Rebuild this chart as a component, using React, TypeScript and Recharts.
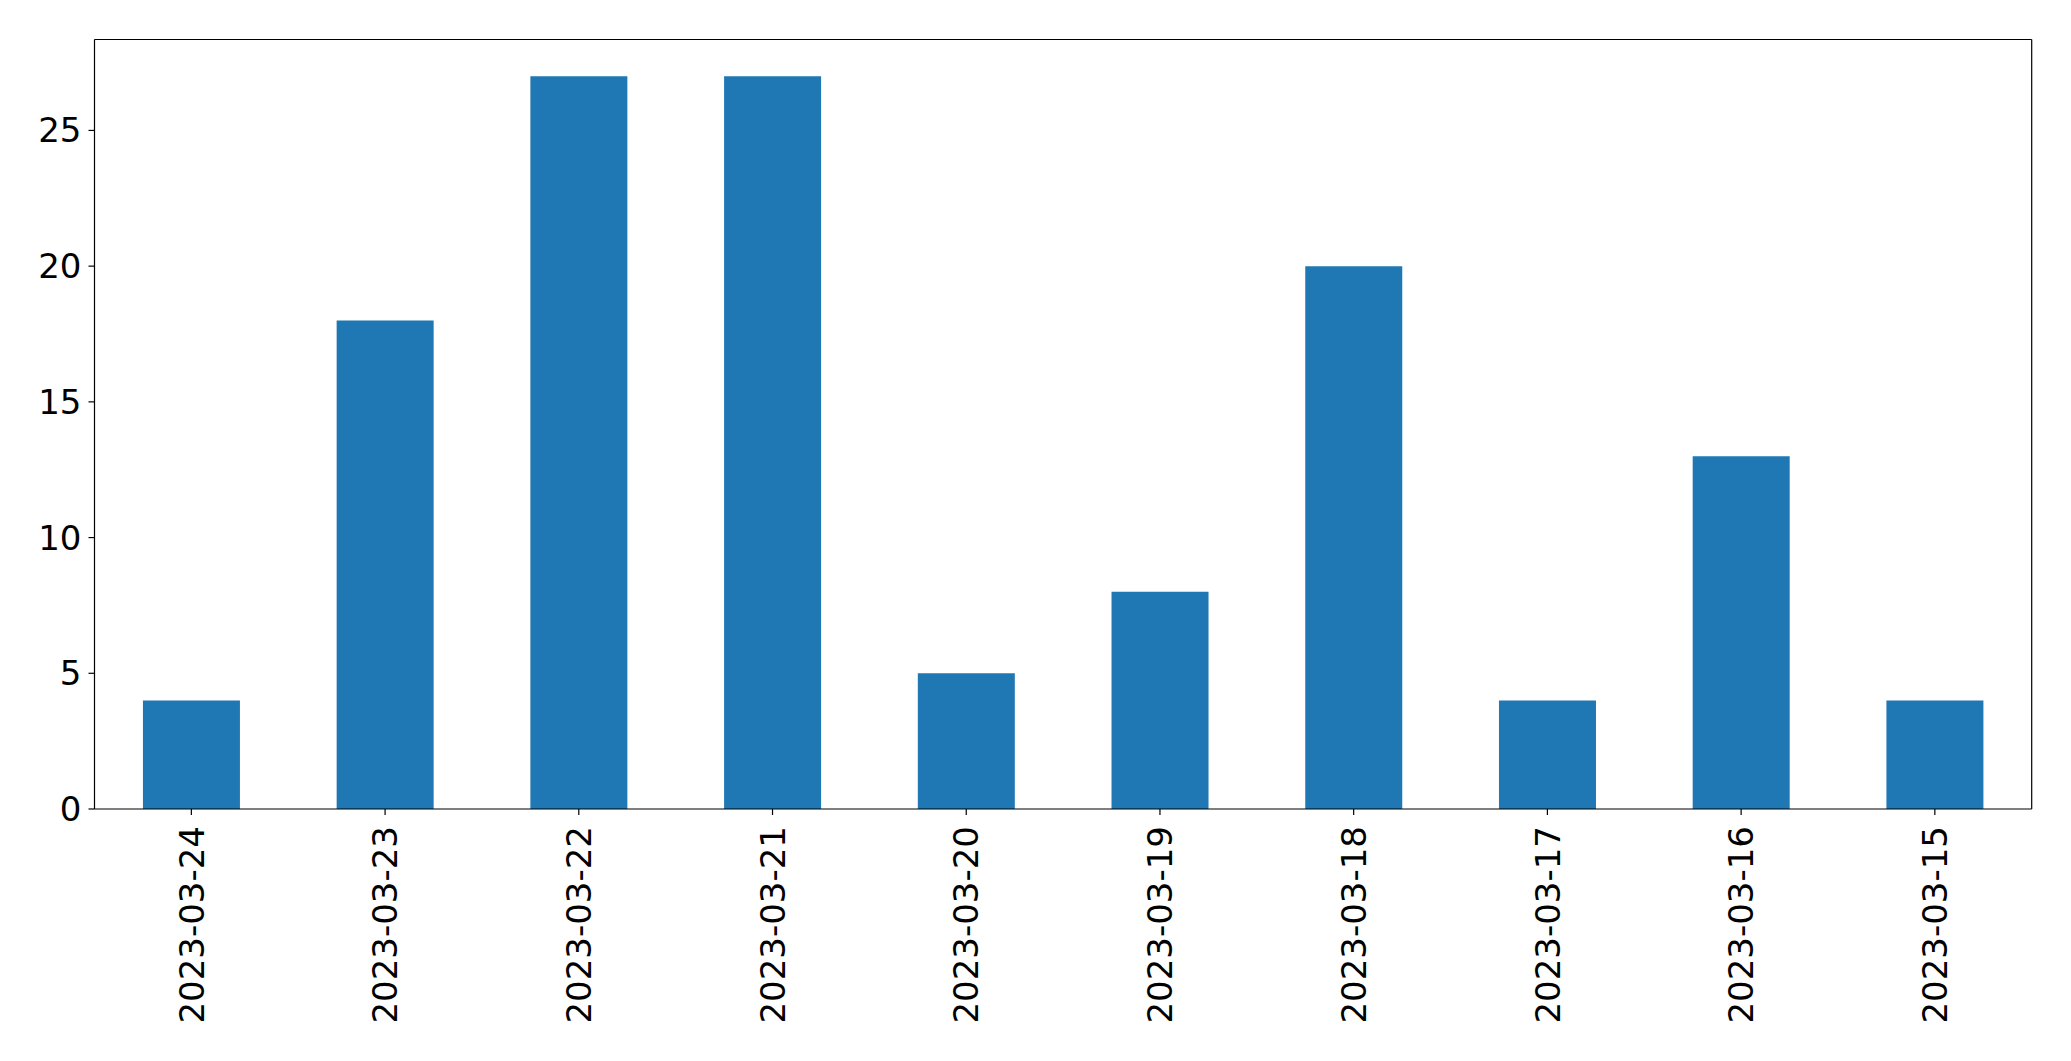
import { BarChart, Bar, XAxis, YAxis } from "recharts"

const dates = [
  "2023-03-24",
  "2023-03-23",
  "2023-03-22",
  "2023-03-21",
  "2023-03-20",
  "2023-03-19",
  "2023-03-18",
  "2023-03-17",
  "2023-03-16",
  "2023-03-15",
]
const counts = [4, 18, 27, 27, 5, 8, 20, 4, 13, 4]
const yTicks = [0, 5, 10, 15, 20, 25]

const data = dates.map((date, i) => ({ date, count: counts[i] }))

const FONT = "'DejaVu Sans', sans-serif"
const FONT_SIZE = 34
const LINE = { stroke: "#000", strokeWidth: 1.2 }

// rotated date labels, hanging down from the tick
function DateTick(props: any) {
  const { x, y, payload } = props
  return (
    <text
      x={0}
      y={0}
      transform={`translate(${x},${y}) rotate(-90)`}
      textAnchor="end"
      dy="0.36em"
      fontFamily={FONT}
      fontSize={FONT_SIZE}
      fill="#000"
    >
      {payload.value}
    </text>
  )
}

export default function App() {
  return (
    <div style={{ position: "absolute", left: 0, top: 0, background: "#fff" }}>
      <BarChart
        width={2071}
        height={1061}
        data={data}
        margin={{ top: 38.5, right: 38.3, bottom: 0, left: 0 }}
        barCategoryGap="25%"
      >
        <XAxis
          dataKey="date"
          height={252}
          interval={0}
          tick={<DateTick />}
          tickSize={6}
          tickMargin={11}
          stroke="#000"
          axisLine={LINE}
          tickLine={LINE}
        />
        <XAxis
          xAxisId="top"
          dataKey="date"
          orientation="top"
          height={1}
          tick={false}
          tickLine={false}
          stroke="#000"
          axisLine={LINE}
        />
        <YAxis
          width={94.5}
          domain={[0, 28.35]}
          ticks={yTicks}
          interval={0}
          tickSize={6}
          tickMargin={7}
          stroke="#000"
          tick={{ fontFamily: FONT, fontSize: FONT_SIZE, fill: "#000" }}
          axisLine={LINE}
          tickLine={LINE}
        />
        <YAxis
          yAxisId="right"
          orientation="right"
          width={1}
          domain={[0, 28.35]}
          tick={false}
          tickLine={false}
          stroke="#000"
          axisLine={LINE}
        />
        <Bar dataKey="count" fill="#1f77b4" isAnimationActive={false} />
      </BarChart>
    </div>
  )
}
